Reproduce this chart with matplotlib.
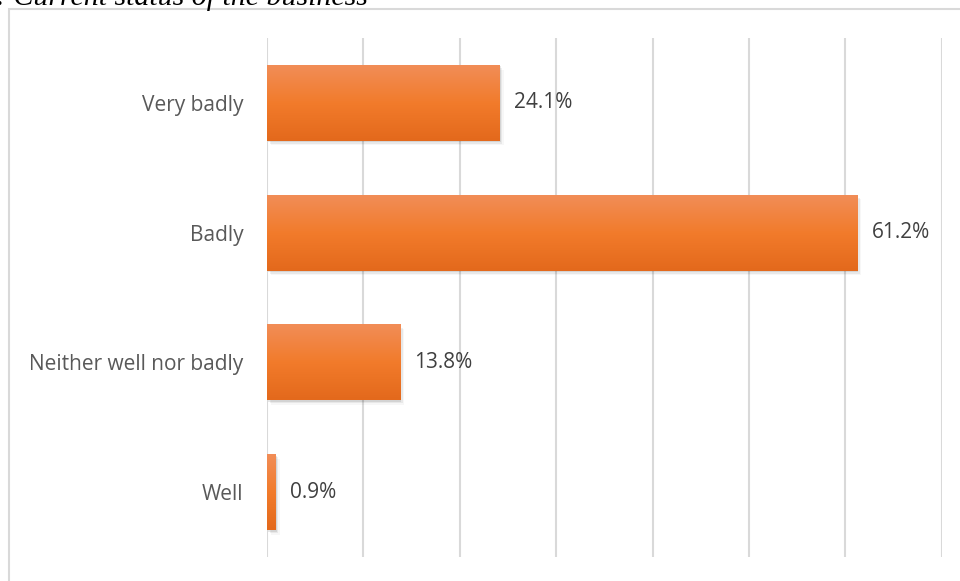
import matplotlib.pyplot as plt
import numpy as np
from matplotlib.patches import Rectangle
from matplotlib.colors import LinearSegmentedColormap

categories = ['Very badly', 'Badly', 'Neither well nor badly', 'Well']
values = [24.1, 61.2, 13.8, 0.9]
labels = ['24.1%', '61.2%', '13.8%', '0.9%']

plt.rcParams['font.family'] = ['Open Sans', 'DejaVu Sans']

fig = plt.figure(figsize=(9.6, 5.81), dpi=100)
ax = fig.add_axes([0.278, 0.0413, 0.703, 0.8933])

# outer chart border (cut off on right and bottom like the source)
fig.patches.append(Rectangle((9 / 960, -0.1), 1.1, 1 - 9 / 581 + 0.1,
                             transform=fig.transFigure, fill=False,
                             edgecolor='#d9d9d9', linewidth=1.5))

fig.text(-0.004, 1 - 5 / 581, ': Current status of the business',
         family='Liberation Serif', style='italic', fontsize=21.5,
         color='#000000', va='baseline', ha='left')

y = np.arange(len(categories))
h = 0.585
bars = ax.barh(y, values, height=h, color='#ed7d31', zorder=3)

grad = LinearSegmentedColormap.from_list('g', ['#f18d57', '#f27b2b', '#e3691c'])
gimg = np.linspace(0, 1, 100).reshape(-1, 1)
for b, v in zip(bars, values):
    x0, y0 = b.get_x(), b.get_y()
    # soft shadow, offset right and down
    for k, a in enumerate([0.09, 0.06, 0.03]):
        ax.add_patch(Rectangle((x0 + 0.15 * (k + 1), y0 + 0.012 * (k + 1)), v, h,
                               color='#000000', alpha=a, zorder=2, linewidth=0))
    im = ax.imshow(gimg[::-1], cmap=grad, aspect='auto', zorder=4,
                   extent=[x0, x0 + v, y0, y0 + h], interpolation='bicubic')
    im.set_clip_path(b)

for yi, v, lab in zip(y, values, labels):
    ax.text(v + 1.5, yi, lab, va='center', ha='left', fontsize=15,
            color='#404040', zorder=5)

ax.set_xlim(0, 70)
ax.set_ylim(len(categories) - 0.5, -0.5)
ax.set_xticks(np.arange(0, 71, 10))
ax.xaxis.grid(True, color='#d9d9d9', linewidth=1.5, zorder=0)
ax.set_axisbelow(True)
ax.tick_params(axis='x', length=0, labelbottom=False)
ax.tick_params(axis='y', length=0, pad=17, labelsize=15, labelcolor='#595959')
ax.set_yticks(y)
ax.set_yticklabels(categories)
for s in ax.spines.values():
    s.set_visible(False)

fig.savefig('out.png', dpi=100)
